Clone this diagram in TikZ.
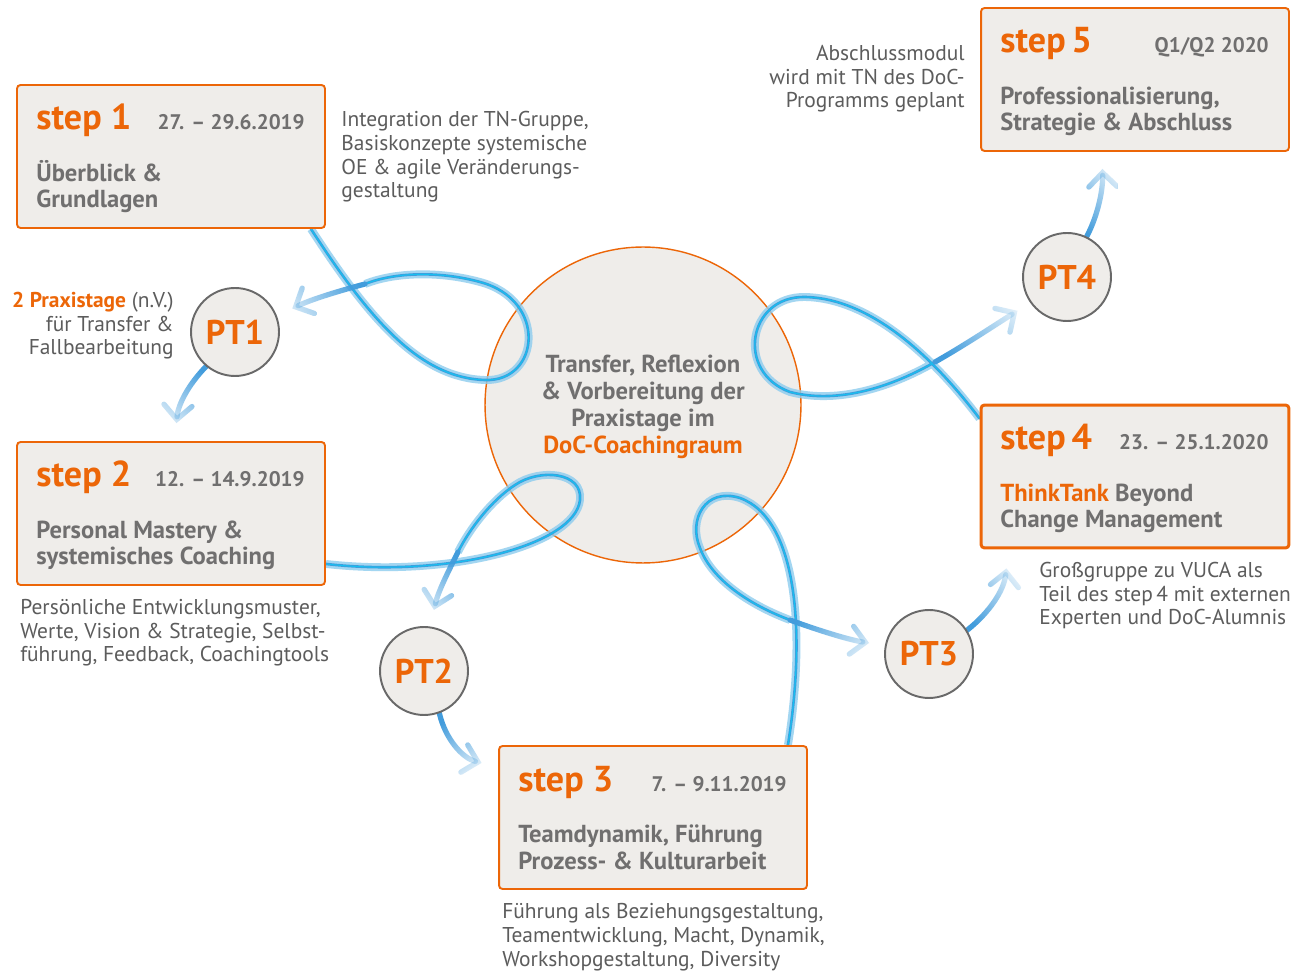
\documentclass[tikz,border=0pt]{standalone}
\usepackage{fontspec}
\setmainfont{PT Sans}
\usepackage{tikz}
\usetikzlibrary{arrows.meta, positioning, calc, fadings}
\definecolor{docorange}{RGB}{236,102,8}
\definecolor{textgray}{RGB}{112,111,111}
\definecolor{notegray}{RGB}{92,92,92}
\definecolor{boxfill}{RGB}{239,237,234}
\definecolor{ringgray}{RGB}{105,105,105}
\definecolor{ribbonpale}{RGB}{140,204,238}
\definecolor{ribbonblue}{RGB}{66,156,220}
\definecolor{ribboncyan}{RGB}{20,192,240}
\tikzfading[name=ribbonfade, left color=transparent!88, right color=transparent!0]
\pgfdeclarelayer{canvas}
\pgfdeclarelayer{hubs}
\pgfdeclarelayer{ribbons}
\pgfsetlayers{canvas,hubs,ribbons,main}

\begin{document}
\begin{tikzpicture}[x=0.02cm, y=-0.02cm,
    stepbox/.style={draw=docorange, line width=1.1pt, fill=boxfill, rounded corners=2pt, minimum width=6.16cm, minimum height=2.86cm, inner sep=0pt},
    steptitle/.style={anchor=base west, inner sep=0pt, text=docorange, font=\fontsize{20.5}{22}\selectfont\bfseries},
    stepdate/.style={anchor=base east, inner sep=0pt, text=textgray, font=\fontsize{12}{14}\selectfont\bfseries},
    stepbody/.style={anchor=base west, inner sep=0pt, align=left, text=textgray, font=\fontsize{14}{15.3}\selectfont\bfseries},
    ptcircle/.style={circle, draw=ringgray, line width=1.1pt, fill=boxfill, minimum size=1.76cm, inner sep=0pt, text=docorange, font=\fontsize{19.5}{20}\selectfont\bfseries},
    note/.style={inner sep=0pt, text=notegray, font=\fontsize{12.2}{13.6}\selectfont},
    ribbon/.style={draw=ribbonblue, line width=1.5pt, line cap=round,
        preaction={draw=ribbonpale, line width=4.5pt, opacity=0.8},
        postaction={draw=ribboncyan, line width=0.6pt}},
    tail/.style={draw=ribbonblue, line width=3pt, line cap=round, path fading=ribbonfade, fading angle=#1,
        -{Straight Barb[length=8pt, width=16pt, line width=3pt, line cap=round]}}]
    \begin{pgfonlayer}{canvas}
        \fill[white] (0,0) rectangle (1312,972);
    \end{pgfonlayer}
    \useasboundingbox (0,0) rectangle (1312,972);

    % Hub
    \begin{pgfonlayer}{hubs}
        \node[circle, draw=docorange, line width=0.8pt, fill=boxfill, minimum size=6.32cm] (hub) at (643,405) {};
    \end{pgfonlayer}
    \node[align=center, inner sep=0pt, text=textgray, font=\fontsize{14}{15.3}\selectfont\bfseries] (hubtext) at (643,407) {Transfer, Reflexion\\\& Vorbereitung der\\Praxistage im\\\textcolor{docorange}{DoC-Coachingraum}};

    % Steps
    \node[stepbox] (step1) at (171,156.5) {};
    \node[steptitle] (step1t) at (36,130) {step 1};
    \node[stepdate] (step1d) at (305,130) {27. -- 29.6.2019};
    \node[stepbody] (step1b) at (36,208) {Überblick \&\\Grundlagen};

    \node[stepbox] (step2) at (171,513.5) {};
    \node[steptitle] (step2t) at (36,487) {step 2};
    \node[stepdate] (step2d) at (305,487) {12. -- 14.9.2019};
    \node[stepbody] (step2b) at (36,565) {Personal Mastery \&\\systemisches Coaching};

    \node[stepbox] (step3) at (653,817.5) {};
    \node[steptitle] (step3t) at (518,791) {step 3};
    \node[stepdate] (step3d) at (787,791) {7. -- 9.11.2019};
    \node[stepbody] (step3b) at (518,869) {Teamdynamik, Führung\\Prozess- \& Kulturarbeit};

    \node[stepbox, line width=1.7pt] (step4) at (1135,476.5) {};
    \node[steptitle] (step4t) at (1000,450) {step\,4};
    \node[stepdate] (step4d) at (1269,450) {23. -- 25.1.2020};
    \node[stepbody] (step4b) at (1000,528) {\textcolor{docorange}{ThinkTank} Beyond\\Change Management};

    \node[stepbox] (step5) at (1135,79.5) {};
    \node[steptitle] (step5t) at (1000,53) {step\,5};
    \node[stepdate] (step5d) at (1269,53) {Q1/Q2 2020};
    \node[stepbody] (step5b) at (1000,131) {Professionalisierung,\\Strategie \& Abschluss};

    % Praxistage
    \node[ptcircle] (pt1) at (235,332) {PT1};
    \node[ptcircle] (pt2) at (424,671) {PT2};
    \node[ptcircle] (pt3) at (929,654) {PT3};
    \node[ptcircle] (pt4) at (1067,277) {PT4};

    % Notes
    \node[note, anchor=base west, align=left] (note1) at (341,198) {Integration der TN-Gruppe,\\Basiskonzepte systemische\\OE \& agile Veränderungs-\\gestaltung};
    \node[note, anchor=base east, align=right] (note2) at (174,355) {\textcolor{docorange}{\bfseries 2 Praxistage} (n.V.)\\für Transfer \&\\Fallbearbeitung};
    \node[note, anchor=base west, align=left] (note3) at (20,662) {Persönliche Entwicklungsmuster,\\Werte, Vision \& Strategie, Selbst-\\führung, Feedback, Coachingtools};
    \node[note, anchor=base west, align=left] (note4) at (502,966) {Führung als Beziehungsgestaltung,\\Teamentwicklung, Macht, Dynamik,\\Workshopgestaltung, Diversity};
    \node[note, anchor=base west, align=left] (note5) at (1039,625) {Großgruppe zu VUCA als\\Teil des step\,4 mit externen\\Experten und DoC-Alumnis};
    \node[note, anchor=base east, align=right] (note6) at (965,108) {Abschlussmodul\\wird mit TN des DoC-\\Programms geplant};

    % Ribbons
    \coordinate (r1tail) at (365,284);
    \coordinate (r3tail) at (458,552);
    \coordinate (r5tail) at (790,620);
    \coordinate (r7tail) at (935,362);
    \begin{pgfonlayer}{ribbons}
        \draw[ribbon] ([xshift=-0.3cm]step1.south east) .. controls (370,320) and (420,378) .. (485,380) .. controls (540,382) and (548,300) .. (480,282) .. controls (440,271) and (395,272) .. (r1tail);
        \draw[tail=15, shorten >=0.34cm] (r1tail) .. controls (335,292) and (310,300) .. (pt1.21);
        \draw[tail=70, shorten >=0.36cm] (pt1.230) .. controls (188,385) and (178,405) .. ([xshift=0.08cm]step2.north);
        \draw[ribbon] ([yshift=0.44cm]step2.south east) .. controls (450,578) and (575,545) .. (580,500) .. controls (583,472) and (540,468) .. (515,485) .. controls (492,500) and (470,528) .. (r3tail);
        \draw[tail=70, shorten >=0.34cm] (r3tail) .. controls (448,572) and (438,592) .. (pt2.82);
        \draw[tail=130, shorten >=0.34cm] (pt2.290) .. controls (445,738) and (462,758) .. ([yshift=-0.44cm]step3.north west);
        \draw[ribbon] ([xshift=-0.4cm]step3.north east) .. controls (805,640) and (800,520) .. (740,498) .. controls (705,487) and (688,520) .. (700,548) .. controls (712,580) and (750,605) .. (r5tail);
        \draw[tail=164, shorten >=0.32cm] (r5tail) .. controls (820,631) and (850,640) .. (pt3.169);
        \draw[tail=-124, shorten >=0.38cm] (pt3.32) .. controls (990,612) and (1004,590) .. ([xshift=0.58cm]step4.south west);
        \draw[ribbon] ([yshift=-0.3cm]step4.north west) .. controls (920,340) and (860,298) .. (805,297) .. controls (748,296) and (735,372) .. (790,392) .. controls (840,405) and (895,385) .. (r7tail);
        \draw[tail=-148, shorten >=0.3cm] (r7tail) .. controls (965,345) and (995,325) .. (pt4.215);
        \draw[tail=-104, shorten >=0.34cm] (pt4.64) .. controls (1098,215) and (1103,190) .. ([xshift=2.44cm]step5.south west);
    \end{pgfonlayer}
\end{tikzpicture}
\end{document}
